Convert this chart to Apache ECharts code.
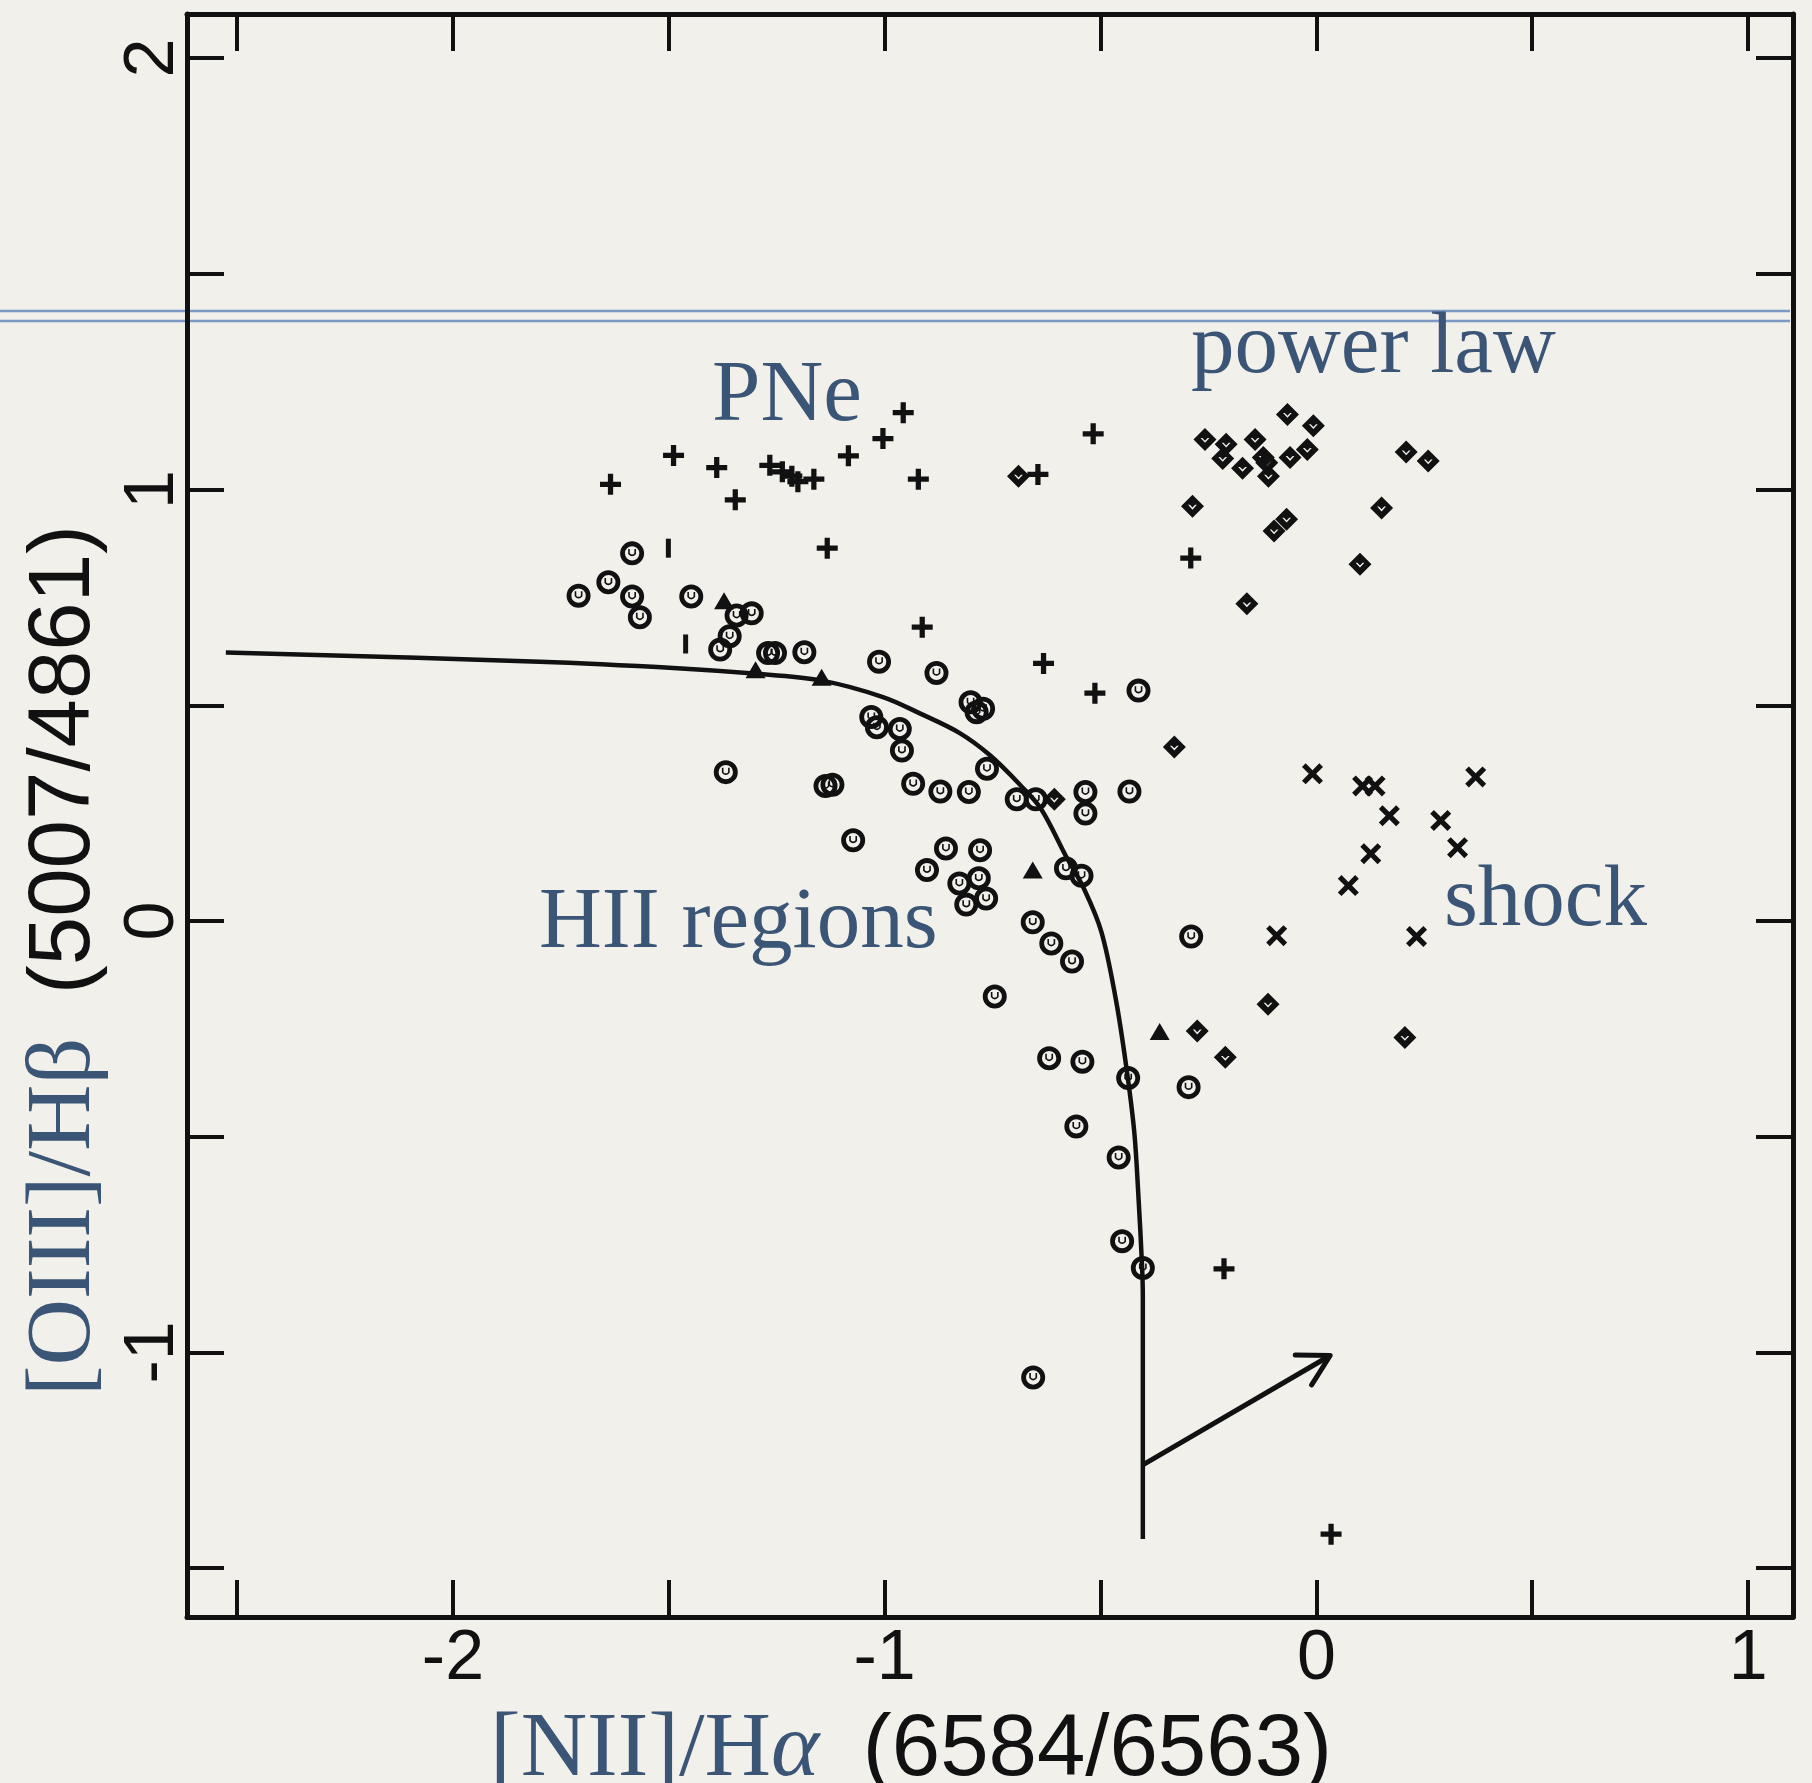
<!DOCTYPE html>
<html>
<head>
<meta charset="utf-8">
<script src="https://cdn.jsdelivr.net/npm/echarts@6/dist/echarts.min.js"></script>
<style>
html,body{margin:0;padding:0;background:#f2f0eb;overflow:hidden;}
#chart{width:1812px;height:1783px;}
</style>
</head>
<body>
<div id="chart"></div>
<script>
// ---- axis ticks / labels ----
const xTicks = [-2.5, -2, -1.5, -1, -0.5, 0, 0.5, 1];
const xTickLabels = [-2, -1, 0, 1];
const yTicks = [-1.5, -1, -0.5, 0, 0.5, 1, 1.5, 2];
const yTickLabels = [-1, 0, 1, 2];

// ---- data: [log NII/Ha, log OIII/Hb] ----
const hiiRegions = [
  [-1.585,0.852],[-1.640,0.785],[-1.709,0.754],[-1.585,0.752],[-1.567,0.704],[-1.448,0.752],
  [-1.343,0.708],[-1.308,0.713],[-1.359,0.660],[-1.381,0.629],[-1.270,0.621],[-1.254,0.621],
  [-1.186,0.623],[-1.013,0.601],[-0.880,0.575],[-0.801,0.507],[-0.787,0.484],[-0.772,0.492],
  [-1.031,0.473],[-1.018,0.449],[-0.965,0.445],[-0.960,0.395],[-1.368,0.345],[-1.137,0.313],
  [-1.121,0.316],[-0.934,0.318],[-0.871,0.300],[-0.805,0.299],[-0.763,0.353],[-0.694,0.282],
  [-0.650,0.282],[-0.535,0.299],[-0.535,0.249],[-0.433,0.300],[-0.412,0.534],[-1.073,0.187],
  [-0.858,0.168],[-0.779,0.164],[-0.902,0.118],[-0.827,0.087],[-0.782,0.099],[-0.811,0.038],
  [-0.765,0.052],[-0.580,0.122],[-0.544,0.105],[-0.657,-0.003],[-0.614,-0.052],[-0.566,-0.094],
  [-0.745,-0.175],[-0.619,-0.318],[-0.542,-0.326],[-0.436,-0.364],[-0.296,-0.385],[-0.290,-0.036],
  [-0.556,-0.476],[-0.458,-0.548],[-0.450,-0.742],[-0.402,-0.804],[-0.656,-1.058]
];
const planetaryNebulae = [
  [-0.957,1.178],[-1.004,1.118],[-1.084,1.078],[-1.489,1.079],[-1.389,1.051],[-1.635,1.012],
  [-1.346,0.976],[-1.266,1.056],[-1.237,1.041],[-1.215,1.031],[-1.201,1.018],[-1.164,1.024],
  [-0.922,1.024],[-0.517,1.129],[-0.645,1.035],[-1.133,0.864],[-0.913,0.681],[-0.632,0.597],
  [-0.513,0.528],[-0.291,0.841],[-0.214,-0.806],[0.034,-1.421]
];
const powerLaw = [
  [-0.690,1.031],[-0.067,1.174],[-0.007,1.148],[-0.258,1.116],[-0.209,1.105],[-0.142,1.116],
  [-0.217,1.072],[-0.171,1.049],[-0.123,1.074],[-0.115,1.062],[-0.111,1.031],[-0.061,1.074],
  [-0.021,1.093],[0.208,1.087],[0.259,1.066],[-0.287,0.961],[-0.098,0.904],[-0.069,0.931],
  [0.151,0.957],[0.101,0.827],[-0.161,0.735],[-0.329,0.403],[-0.607,0.282],[-0.112,-0.193],
  [-0.276,-0.255],[-0.211,-0.316],[0.205,-0.270]
];
const shockHeated = [
  [-0.009,0.341],[0.107,0.313],[0.136,0.313],[0.369,0.334],[0.169,0.244],[0.288,0.233],
  [0.327,0.170],[0.126,0.156],[0.074,0.082],[-0.092,-0.034],[0.232,-0.036]
];
const triangleObjects = [[-1.372,0.742],[-1.299,0.582],[-1.146,0.565],[-0.657,0.118],[-0.363,-0.256]];
const barObjects = [[-1.501,0.864],[-1.461,0.642]];

const boundaryCurve = [
  [-2.526,0.622],[-1.799,0.601],[-1.480,0.586],[-1.311,0.574],[-1.146,0.557],[-1.004,0.519],
  [-0.916,0.480],[-0.827,0.436],[-0.756,0.384],[-0.685,0.314],[-0.638,0.260],[-0.580,0.150],
  [-0.537,0.072],[-0.498,-0.025],[-0.465,-0.179],[-0.441,-0.333],[-0.422,-0.487],[-0.412,-0.642],
  [-0.404,-0.796],[-0.402,-0.870],[-0.402,-1.432]
];
const reddeningVector = [[-0.401,-1.260],[0.032,-1.007]];
const reddeningHead = [[-0.049,-1.006],[0.032,-1.007],[-0.011,-1.075]];

// ---- styling ----
const ink = '#111111';
const slate = '#3b5576';
const sans = "'Liberation Sans', Arial, 'DejaVu Sans', sans-serif";
const serif = "'Liberation Serif', 'Times New Roman', 'DejaVu Serif', serif";

const symCircleU = 'path://M1,13 A12,12 0 1,1 25,13 A12,12 0 1,1 1,13 Z M5.8,13 A7.2,7.2 0 1,0 20.2,13 A7.2,7.2 0 1,0 5.8,13 Z M10.7,8.6 L10.7,13 Q13,15.4 15.3,13 L15.3,8.6 L16.9,8.6 L16.9,13.6 Q13,18.3 9.1,13.6 L9.1,8.6 Z';
const symPlus = 'path://M7.5,0 L12.5,0 L12.5,7.5 L20,7.5 L20,12.5 L12.5,12.5 L12.5,20 L7.5,20 L7.5,12.5 L0,12.5 L0,7.5 L7.5,7.5 Z';
const symDiamond = 'path://M11,0 L22,11 L11,22 L0,11 Z M6.8,9.6 L11,14.2 L15.2,9.6 L13.5,9.6 L11,12.2 L8.5,9.6 Z';
const symCross = 'path://M0,3.5 L3.5,0 L10,6.5 L16.5,0 L20,3.5 L13.5,10 L20,16.5 L16.5,20 L10,13.5 L3.5,20 L0,16.5 L6.5,10 Z';

const X_MIN = -2.616, X_MAX = 1.104, Y_MIN = -1.613, Y_MAX = 2.102;

function frameAxis(position, ticks, labels, extra) {
  const isX = (position === 'bottom' || position === 'top');
  return Object.assign({
    type: 'value', position: position,
    min: isX ? X_MIN : Y_MIN,
    max: isX ? X_MAX : Y_MAX,
    axisLine: { show: true, onZero: false, lineStyle: { color: ink, width: 5 } },
    axisTick: { show: true, inside: true, length: 37, customValues: ticks, lineStyle: { color: ink, width: 4 } },
    axisLabel: labels ? labels : { show: false },
    splitLine: { show: false },
    minorTick: { show: false }
  }, extra || {});
}

const markStyle = { color: ink, opacity: 1 };

const chart = echarts.init(document.getElementById('chart'));
chart.setOption({
  backgroundColor: '#f2f0eb',
  animation: false,
  grid: { left: 187, right: 19, top: 14, bottom: 166, containLabel: false, outerBoundsMode: 'none' },
  xAxis: [
    frameAxis('bottom', xTicks, {
      show: true, customValues: xTickLabels, fontFamily: sans, fontSize: 70, color: ink, margin: 8
    }, {
      name: '{s|[NII]/H}{g|α}{d|\u2002(6584/6563)}',
      nameLocation: 'middle', nameGap: 88,
      nameTextStyle: {
        padding: [0, 158, 0, 0],
        rich: {
          s: { fontFamily: serif, fontSize: 92, color: slate },
          g: { fontFamily: serif, fontStyle: 'italic', fontSize: 92, color: slate },
          d: { fontFamily: sans, fontSize: 87, color: ink }
        }
      }
    }),
    frameAxis('top', xTicks, null)
  ],
  yAxis: [
    frameAxis('left', yTicks, {
      show: true, customValues: yTickLabels, fontFamily: sans, fontSize: 70, color: ink, margin: -2, rotate: 90
    }, {
      name: '{s|[OIII]/Hβ}{d|\u2002(5007/4861)}',
      nameLocation: 'middle', nameGap: 76, nameRotate: 90,
      nameTextStyle: {
        padding: [0, 290, 0, 0],
        rich: {
          s: { fontFamily: serif, fontSize: 92, color: slate },
          d: { fontFamily: sans, fontSize: 87, color: ink }
        }
      }
    }),
    frameAxis('right', yTicks, null)
  ],
  series: [
    { name: 'HII sequence', type: 'line', data: boundaryCurve, showSymbol: false, smooth: 0.35,
      lineStyle: { color: ink, width: 4.5 }, z: 1, silent: true },
    { name: 'reddening', type: 'line', data: reddeningVector, showSymbol: false,
      lineStyle: { color: ink, width: 5 }, z: 1, silent: true },
    { name: 'reddening head', type: 'line', data: reddeningHead, showSymbol: false,
      lineStyle: { color: ink, width: 5, join: 'round', cap: 'round' }, z: 1, silent: true },
    { name: 'HII regions', type: 'scatter', data: hiiRegions, symbol: symCircleU, symbolSize: 24,
      symbolKeepAspect: true, itemStyle: markStyle, z: 3 },
    { name: 'PNe', type: 'scatter', data: planetaryNebulae, symbol: symPlus, symbolSize: 21,
      itemStyle: markStyle, z: 3 },
    { name: 'power law', type: 'scatter', data: powerLaw, symbol: symDiamond, symbolSize: 23,
      itemStyle: markStyle, z: 3 },
    { name: 'shock', type: 'scatter', data: shockHeated, symbol: symCross, symbolSize: 21,
      itemStyle: markStyle, z: 3 },
    { name: 'triangles', type: 'scatter', data: triangleObjects, symbol: 'triangle', symbolSize: [20, 17],
      itemStyle: markStyle, z: 3 },
    { name: 'bars', type: 'scatter', data: barObjects, symbol: 'rect', symbolSize: [5, 19],
      itemStyle: markStyle, z: 3 }
  ],
  graphic: [
    { type: 'line', z: -1, silent: true, shape: { x1: 0, y1: 311, x2: 1790, y2: 311 },
      style: { stroke: '#7d98c2', lineWidth: 2.5 } },
    { type: 'line', z: -1, silent: true, shape: { x1: 0, y1: 321, x2: 1790, y2: 321 },
      style: { stroke: '#7d98c2', lineWidth: 2.5 } },
    { type: 'text', x: 712, y: 397, silent: true,
      style: { text: 'PNe', fontFamily: serif, fontSize: 87, fill: slate, verticalAlign: 'middle' } },
    { type: 'text', x: 1191, y: 349, silent: true,
      style: { text: 'power law', fontFamily: serif, fontSize: 87, fill: slate, verticalAlign: 'middle' } },
    { type: 'text', x: 539, y: 924, silent: true,
      style: { text: 'HII regions', fontFamily: serif, fontSize: 87, fill: slate, verticalAlign: 'middle' } },
    { type: 'text', x: 1444, y: 902, silent: true,
      style: { text: 'shock', fontFamily: serif, fontSize: 87, fill: slate, verticalAlign: 'middle' } }
  ]
});
</script>
</body>
</html>
